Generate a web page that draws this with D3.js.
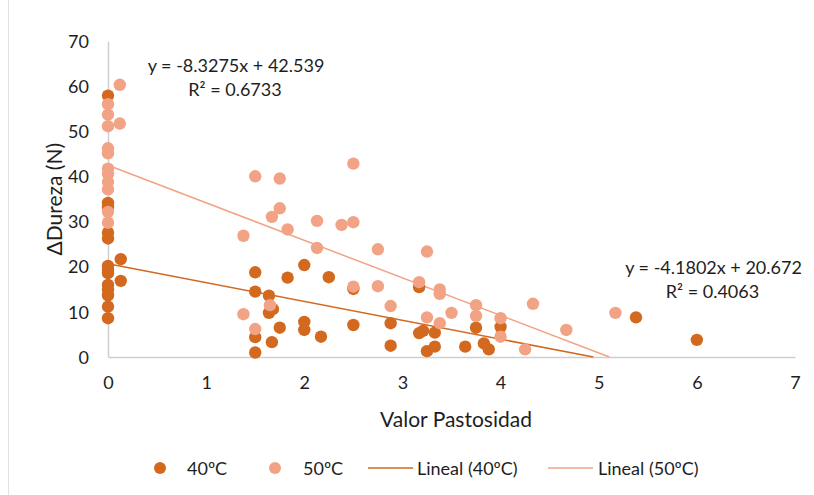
<!DOCTYPE html>
<html>
<head>
<meta charset="utf-8">
<script src="https://cdn.jsdelivr.net/npm/d3@7"></script>
<style>
  html, body { margin: 0; padding: 0; background: #fff; }
  svg { display: block; font-family: Lato, "Open Sans", sans-serif; }
</style>
</head>
<body>
<svg id="chart" width="814" height="495"></svg>
<script>
// Hardness change vs. pastiness value, two drying temperatures
const series40Label = "40ºC";
const series50Label = "50ºC";

// [Valor Pastosidad, ΔDureza (N)]
const points40 = [
  [0, 58.0], [0, 34.2], [0, 33.3], [0, 27.6], [0, 26.3], [0, 20.2], [0, 19.4],
  [0, 18.6], [0, 16.0], [0, 14.9], [0, 13.7], [0, 11.2], [0, 8.6],
  [0.13, 21.7], [0.13, 16.9],
  [1.5, 18.8], [1.5, 14.5], [1.5, 4.4], [1.5, 1.0],
  [1.64, 13.6], [1.64, 9.8], [1.68, 10.6], [1.67, 3.3], [1.75, 6.5], [1.83, 17.6],
  [2.0, 20.4], [2.0, 7.8], [2.0, 6.0], [2.17, 4.5], [2.25, 17.7],
  [2.5, 15.1], [2.5, 7.1], [2.88, 7.5], [2.88, 2.5],
  [3.17, 15.5], [3.17, 5.3], [3.21, 5.8], [3.25, 1.3], [3.33, 5.4], [3.33, 2.3],
  [3.64, 2.3], [3.75, 6.5], [3.83, 3.0], [3.88, 1.7], [4.0, 6.7],
  [5.38, 8.8], [6.0, 3.8]
];

const points50 = [
  [0, 56.1], [0, 53.8], [0, 51.2], [0, 46.3], [0, 45.2], [0, 41.8], [0, 40.6],
  [0, 38.8], [0, 37.2], [0, 32.2], [0, 29.8],
  [0.12, 60.4], [0.12, 51.8],
  [1.38, 26.9], [1.38, 9.5], [1.5, 40.1], [1.5, 6.2], [1.65, 11.5], [1.67, 31.1],
  [1.75, 39.6], [1.75, 33.0], [1.83, 28.3], [2.13, 30.2], [2.13, 24.2], [2.38, 29.3],
  [2.5, 42.9], [2.5, 29.9], [2.5, 15.6], [2.75, 23.9], [2.75, 15.7], [2.88, 11.3],
  [3.17, 16.6], [3.25, 23.4], [3.25, 8.8], [3.38, 15.0], [3.38, 14.0], [3.38, 7.5],
  [3.5, 9.8], [3.75, 11.5], [3.75, 9.1], [4.0, 8.6], [4.0, 4.5], [4.25, 1.7],
  [4.33, 11.8], [4.67, 6.0], [5.17, 9.8]
];

// Linear trendlines (least squares fits)
const trend40 = { slope: -4.1802, intercept: 20.672, r2: 0.4063 };
const trend50 = { slope: -8.3275, intercept: 42.539, r2: 0.6733 };

const xTicks = [0, 1, 2, 3, 4, 5, 6, 7];
const yTicks = [0, 10, 20, 30, 40, 50, 60, 70];

const xTitle = "Valor Pastosidad";
const yTitle = "ΔDureza (N)";

const color40 = "#D2691F";
const color50 = "#F2A385";
const textColor = "#1e1e1e";
const axisColor = "#cfcfcf";

const svg = d3.select("#chart");

const x = d3.scaleLinear().domain([0, 7]).range([108, 795]);
const y = d3.scaleLinear().domain([0, 70]).range([357, 41.5]);

// outer frame edge
svg.append("line")
  .attr("x1", 8.5).attr("x2", 8.5).attr("y1", 0).attr("y2", 495)
  .attr("stroke", "#e2e2e2").attr("stroke-width", 1);

// axes
const xAxis = d3.axisBottom(x).tickValues(xTicks).tickSize(0).tickPadding(19).tickFormat(d3.format("d"));
const yAxis = d3.axisLeft(y).tickValues(yTicks).tickSize(0).tickPadding(19).tickFormat(d3.format("d"));

const gx = svg.append("g").attr("transform", `translate(0,${y(0)})`).call(xAxis);
const gy = svg.append("g").attr("transform", `translate(${x(0)},0)`).call(yAxis);

[gx, gy].forEach(g => {
  g.select(".domain").attr("stroke", axisColor).attr("stroke-width", 1.5);
  g.selectAll("text").attr("fill", textColor).attr("font-size", 18).attr("font-family", "Lato, sans-serif");
});
gy.selectAll("text").attr("dy", "0.34em");
gx.selectAll("text").attr("dy", "0.72em");

// axis titles
svg.append("text")
  .attr("x", 456).attr("y", 418)
  .attr("text-anchor", "middle").attr("dominant-baseline", "central")
  .attr("font-size", 21).attr("fill", textColor)
  .text(xTitle);

svg.append("text")
  .attr("transform", `translate(53,${(y(0) + y(70)) / 2}) rotate(-90)`)
  .attr("text-anchor", "middle").attr("dominant-baseline", "central")
  .attr("font-size", 21).attr("fill", textColor)
  .text(yTitle);

// trendlines, clipped at the x axis
function trendSegment(t, pts) {
  const xMax = d3.max(pts, d => d[0]);
  const xZero = -t.intercept / t.slope;
  const xEnd = Math.min(xMax, xZero);
  return [[0, t.intercept], [xEnd, t.intercept + t.slope * xEnd]];
}
const line = d3.line().x(d => x(d[0])).y(d => y(d[1]));

svg.append("path").datum(trendSegment(trend40, points40))
  .attr("d", line).attr("fill", "none").attr("stroke", color40).attr("stroke-width", 1.5);
svg.append("path").datum(trendSegment(trend50, points50))
  .attr("d", line).attr("fill", "none").attr("stroke", color50).attr("stroke-width", 1.5);

// markers
svg.append("g").selectAll("circle").data(points40).join("circle")
  .attr("cx", d => x(d[0])).attr("cy", d => y(d[1])).attr("r", 6.2)
  .attr("fill", color40);
svg.append("g").selectAll("circle").data(points50).join("circle")
  .attr("cx", d => x(d[0])).attr("cy", d => y(d[1])).attr("r", 6.2)
  .attr("fill", color50);

// trendline equations
function eqText(t) {
  const sign = t.intercept >= 0 ? "+" : "-";
  return `y = ${t.slope}x ${sign} ${Math.abs(t.intercept)}`;
}
function r2Text(t) { return `R² = ${t.r2}`; }

const eqs = [
  { t: trend50, cx: 236, cy: 65 },
  { t: trend40, cx: 713.5, cy: 267 }
];
eqs.forEach(e => {
  const g = svg.append("g").attr("font-size", 18).attr("fill", textColor).attr("text-anchor", "middle");
  g.append("text").attr("x", e.cx).attr("y", e.cy).attr("dominant-baseline", "central").text(eqText(e.t));
  g.append("text").attr("x", e.cx - 1).attr("y", e.cy + 24).attr("dominant-baseline", "central").text(r2Text(e.t));
});

// legend
const legendY = 468;
const legend = svg.append("g").attr("font-size", 18).attr("fill", textColor);
legend.append("circle").attr("cx", 160).attr("cy", legendY).attr("r", 6).attr("fill", color40);
legend.append("text").attr("x", 187).attr("y", legendY).attr("dominant-baseline", "central").text(series40Label);
legend.append("circle").attr("cx", 275).attr("cy", legendY).attr("r", 6).attr("fill", color50);
legend.append("text").attr("x", 303).attr("y", legendY).attr("dominant-baseline", "central").text(series50Label);
legend.append("line").attr("x1", 368).attr("x2", 413).attr("y1", legendY).attr("y2", legendY)
  .attr("stroke", color40).attr("stroke-width", 1.5);
legend.append("text").attr("x", 417).attr("y", legendY).attr("dominant-baseline", "central").text(`Lineal (${series40Label})`);
legend.append("line").attr("x1", 548).attr("x2", 593).attr("y1", legendY).attr("y2", legendY)
  .attr("stroke", color50).attr("stroke-width", 1.5);
legend.append("text").attr("x", 598).attr("y", legendY).attr("dominant-baseline", "central").text(`Lineal (${series50Label})`);
</script>
</body>
</html>
